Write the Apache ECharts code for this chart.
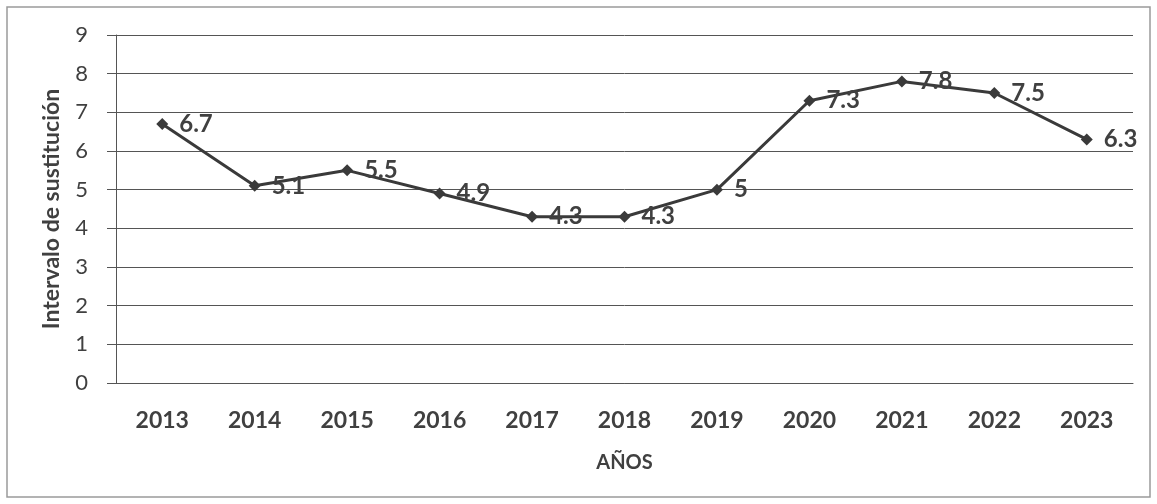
<!DOCTYPE html>
<html>
<head>
<meta charset="utf-8">
<script src="https://cdn.jsdelivr.net/npm/echarts@6/dist/echarts.min.js"></script>
<style>
  html, body { margin: 0; padding: 0; background: #fff; }
  #chart { width: 1157px; height: 504px; }
</style>
</head>
<body>
<div id="chart"></div>
<script>
var years = ['2013', '2014', '2015', '2016', '2017', '2018', '2019', '2020', '2021', '2022', '2023'];
var intervalo = [6.7, 5.1, 5.5, 4.9, 4.3, 4.3, 5, 7.3, 7.8, 7.5, 6.3];
var yTicks = [0, 1, 2, 3, 4, 5, 6, 7, 8, 9];

var chart = echarts.init(document.getElementById('chart'));
var fontFam = 'Lato, "Open Sans", sans-serif';

var option = {
    backgroundColor: '#fff',
    graphic: [{
        type: 'rect',
        shape: { x: 7, y: 7, width: 1143, height: 490 },
        style: { fill: 'none', stroke: '#9a9a9a', lineWidth: 1.5 },
        silent: true
    }],
    grid: {
        left: 116,
        right: 24,
        top: 35,
        bottom: 121
    },
    xAxis: {
        type: 'category',
        data: years,
        boundaryGap: true,
        name: 'AÑOS',
        nameLocation: 'middle',
        nameGap: 70,
        nameTextStyle: { fontFamily: fontFam, fontWeight: 'bold', fontSize: 20, color: '#404040' },
        axisLine: { show: true, lineStyle: { color: '#555', width: 1 } },
        axisTick: { show: false },
        axisLabel: { fontFamily: fontFam, fontWeight: 'bold', fontSize: 23, color: '#404040', margin: 26 },
        splitLine: { show: false }
    },
    yAxis: {
        type: 'value',
        min: yTicks[0],
        max: yTicks[yTicks.length - 1],
        interval: 1,
        name: 'Intervalo de sustitución',
        nameLocation: 'middle',
        nameGap: 53,
        nameRotate: 90,
        nameTextStyle: { fontFamily: fontFam, fontWeight: 'bold', fontSize: 23, color: '#404040' },
        axisLine: { show: true, lineStyle: { color: '#555', width: 1 } },
        axisTick: { show: true, inside: false, length: 9, lineStyle: { color: '#555' } },
        axisLabel: { fontFamily: fontFam, fontSize: 22, color: '#404040', margin: 28 },
        splitLine: { show: true, lineStyle: { color: '#555', width: 1 } }
    },
    series: [{
        name: 'Intervalo de sustitución',
        type: 'line',
        data: intervalo,
        symbol: 'diamond',
        symbolSize: 12,
        lineStyle: { color: '#3a3a3a', width: 3 },
        itemStyle: { color: '#3a3a3a' },
        label: {
            show: true,
            position: 'right',
            distance: 11,
            fontFamily: fontFam,
            fontWeight: 'bold',
            fontSize: 24,
            color: '#404040'
        },
        animation: false
    }],
    animation: false
};

chart.setOption(option);
window.addEventListener('resize', chart.resize);
</script>
</body>
</html>
